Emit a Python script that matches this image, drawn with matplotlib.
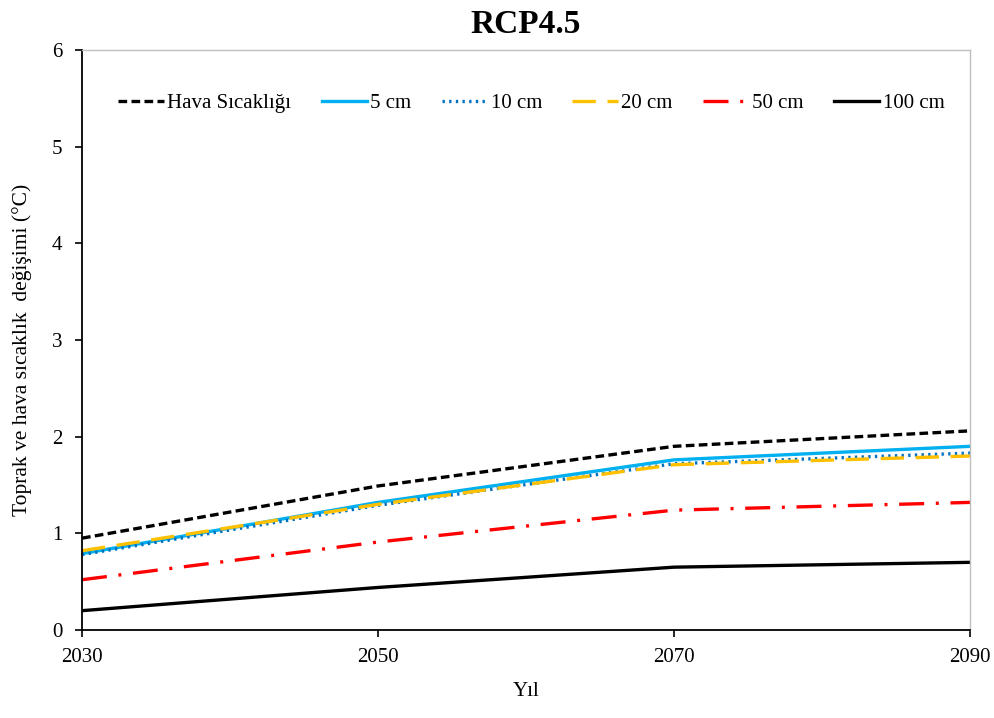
import matplotlib
matplotlib.use("Agg")
import matplotlib.pyplot as plt

plt.rcParams['font.family'] = ['Liberation Serif', 'DejaVu Serif']

years = [2030, 2050, 2070, 2090]
hava = [0.95, 1.49, 1.90, 2.06]
cm5 = [0.79, 1.32, 1.76, 1.90]
cm10 = [0.78, 1.29, 1.72, 1.83]
cm20 = [0.82, 1.30, 1.71, 1.80]
cm50 = [0.52, 0.91, 1.24, 1.32]
cm100 = [0.20, 0.44, 0.65, 0.70]

series_labels = ['Hava Sıcaklığı', '5 cm', '10 cm', '20 cm', '50 cm', '100 cm']
y_ticks = [0, 1, 2, 3, 4, 5, 6]

fig = plt.figure(figsize=(9.95, 7.18), dpi=100)
ax = fig.add_axes([82 / 995, 88 / 718, 888 / 995, 580 / 718])

lw = 2.4
ax.plot(years, hava, color='black', lw=lw, linestyle=(0, (2.6, 1.3)), label=series_labels[0])
ax.plot(years, cm5, color='#00B0F0', lw=lw, linestyle='-', label=series_labels[1])
ax.plot(years, cm10, color='#0070C0', lw=lw, linestyle=(0, (0.7, 1.3)), label=series_labels[2])
ax.plot(years, cm20, color='#FFC000', lw=lw, linestyle=(0, (7, 3.5)), label=series_labels[3])
ax.plot(years, cm50, color='#FF0000', lw=lw, linestyle=(0, (7.5, 3.5, 0.9, 3.5)), label=series_labels[4])
ax.plot(years, cm100, color='black', lw=lw, linestyle='-', label=series_labels[5])

ax.set_xlim(2030, 2090)
ax.set_ylim(0, 6)
ax.set_xticks(years)
ax.set_yticks(y_ticks)
ax.tick_params(axis='both', labelsize=15, direction='out', length=5, width=1.2, color='black')
ax.tick_params(axis='x', pad=8)
ax.tick_params(axis='y', pad=9)

for side in ('left', 'bottom'):
    ax.spines[side].set_color('black')
    ax.spines[side].set_linewidth(1.3)
for side in ('top', 'right'):
    ax.spines[side].set_color('#BFBFBF')
    ax.spines[side].set_linewidth(1.0)

ax.set_title('RCP4.5', fontsize=24, fontweight='bold', pad=12)
ax.set_xlabel('Yıl', fontsize=15, labelpad=11)
ax.set_ylabel('Toprak ve hava sıcaklık  değişimi (°C)', fontsize=15.5)
ax.yaxis.set_label_coords(-0.0565, 0.483)

ax.legend(loc='upper center', bbox_to_anchor=(0.506, 0.957), ncol=6, frameon=False,
          fontsize=15, handlelength=2.2, handletextpad=0.15, columnspacing=1.45)

fig.savefig('out.png', dpi=100)
